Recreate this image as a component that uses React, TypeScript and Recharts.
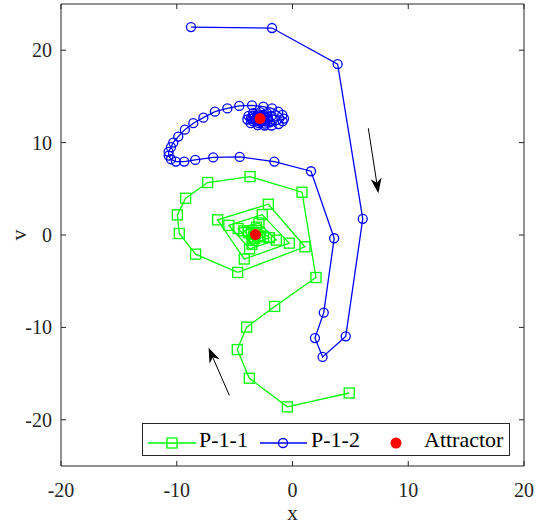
import { ScatterChart, Scatter, XAxis, YAxis, Label } from "recharts";

// P-1-1 trajectory (green squares)
const p11X = [4.9, -0.45, -3.73, -4.77, -3.96, -1.54, 2.03, 0.82, -3.67, -7.33, -9.23, -9.95, -9.78, -8.37, -4.74, 1.08, -2.09, -6.47, -4.17, -0.28, -2.62, -5.5, -3.7, -1.4, -2.9, -4.7, -3.5, -2.0, -3.1, -4.2, -3.4, -2.5, -3.15, -3.8, -3.3, -2.8, -3.2, -3.55, -3.25, -3.0];
const p11Y = [-17.1, -18.6, -15.5, -12.4, -9.97, -7.73, -4.6, 4.63, 6.32, 5.68, 3.98, 2.18, 0.16, -2.07, -4.05, -1.28, 3.33, 1.64, -2.6, -0.88, 2.2, 1.05, -1.5, -0.55, 1.3, 0.7, -1.0, -0.3, 0.85, 0.45, -0.6, -0.2, 0.5, 0.25, -0.35, -0.1, 0.3, 0.12, -0.2, -0.05];

// P-1-2 trajectory (blue circles)
const p12X = [-8.77, -1.77, 3.9, 6.07, 4.6, 2.6, 1.94, 2.7, 3.6, 1.6, -1.57, -4.56, -6.85, -8.4, -9.35, -10.07, -10.5, -10.7, -10.7, -10.5, -10.3, -9.87, -9.3, -8.57, -7.7, -6.7, -5.63, -4.6, -3.5, -2.52, -1.77, -1.23, -0.88, -0.73, -0.85, -1.2, -1.8, -2.4, -3.0, -3.6, -3.9, -3.8, -3.4, -2.8, -2.2, -1.8, -1.7, -1.95, -2.4, -2.9, -3.4, -3.6, -3.4, -3.0, -2.5, -2.15, -2.1, -2.35, -2.8, -3.2, -3.3, -3.05, -2.7, -2.45, -2.5, -2.8, -3.05, -2.95, -2.7];
const p12Y = [22.5, 22.4, 18.5, 1.75, -10.97, -13.2, -11.15, -8.4, -0.35, 6.9, 7.95, 8.45, 8.4, 8.13, 7.95, 7.95, 8.2, 8.6, 9.0, 9.5, 10.0, 10.65, 11.4, 12.1, 12.7, 13.35, 13.7, 13.97, 14.03, 13.9, 13.7, 13.35, 13.0, 12.6, 12.3, 12.0, 11.85, 11.85, 11.9, 12.1, 12.5, 12.9, 13.2, 13.3, 13.2, 12.9, 12.5, 12.2, 12.05, 12.1, 12.3, 12.6, 12.9, 13.05, 13.0, 12.8, 12.5, 12.3, 12.25, 12.4, 12.65, 12.85, 12.85, 12.7, 12.45, 12.4, 12.55, 12.75, 12.7];

// attractors (red dots)
const attractorX = [-3.2, -2.8];
const attractorY = [0.05, 12.6];

// arrows: [start, end]
const arrow1X = [6.55, 7.42];
const arrow1Y = [11.55, 4.52];
const arrow2X = [-5.46, -7.25];
const arrow2Y = [-17.35, -12.2];

const xTicks = [-20, -10, 0, 10, 20];
const yTicks = [-20, -10, 0, 10, 20];

const zip = (xs: number[], ys: number[]) => xs.map((x, i) => ({ x, y: ys[i] }));

const p11 = zip(p11X, p11Y);
const p12 = zip(p12X, p12Y);
const attractors = zip(attractorX, attractorY);
const arrow1 = zip(arrow1X, arrow1Y);
const arrow2 = zip(arrow2X, arrow2Y);

const GREEN = "#00ff00";
const BLUE = "#0000ff";
const RED = "#ff0000";
const AX = "#262626";
const FONT = '"Liberation Serif", "Times New Roman", serif';

// plot box edges (px) used for the inward tick marks
const BOX = { left: 61, right: 524, top: 4, bottom: 466 };
const TICK = 5;

const BottomTick = (p: any) => (
  <g>
    <line x1={p.x} x2={p.x} y1={BOX.bottom} y2={BOX.bottom - TICK} stroke={AX} />
    <text x={p.x} y={497} textAnchor="middle" fontSize={20} fontFamily={FONT} fill={AX}>
      {p.payload.value}
    </text>
  </g>
);
const TopTick = (p: any) => <line x1={p.x} x2={p.x} y1={BOX.top} y2={BOX.top + TICK} stroke={AX} />;
const LeftTick = (p: any) => (
  <g>
    <line x1={BOX.left} x2={BOX.left + TICK} y1={p.y} y2={p.y} stroke={AX} />
    <text x={52} y={p.y + 7} textAnchor="end" fontSize={20} fontFamily={FONT} fill={AX}>
      {p.payload.value}
    </text>
  </g>
);
const RightTick = (p: any) => <line x1={BOX.right} x2={BOX.right - TICK} y1={p.y} y2={p.y} stroke={AX} />;

const Square = (p: any) => (
  <rect x={p.cx - 5} y={p.cy - 5} width={10} height={10} fill="none" stroke={GREEN} strokeWidth={1.3} />
);
const Circle = (p: any) => <circle cx={p.cx} cy={p.cy} r={4.5} fill="none" stroke={BLUE} strokeWidth={1.3} />;
const Dot = (p: any) => <circle cx={p.cx} cy={p.cy} r={5.5} fill={RED} />;
const Nothing = () => <g />;

const Arrow = (props: any) => {
  const pts = props.points;
  if (!pts || pts.length < 2) return <g />;
  const [a, b] = pts;
  const ang = Math.atan2(b.y - a.y, b.x - a.x);
  const len = 15;
  const w = 5.5;
  const ux = Math.cos(ang);
  const uy = Math.sin(ang);
  const bx = b.x - ux * len;
  const by = b.y - uy * len;
  const nx = b.x - ux * len * 0.7;
  const ny = b.y - uy * len * 0.7;
  const head = `M${b.x},${b.y} L${bx - uy * w},${by + ux * w} L${nx},${ny} L${bx + uy * w},${by - ux * w} Z`;
  return (
    <g>
      <line x1={a.x} y1={a.y} x2={nx} y2={ny} stroke="#000" strokeWidth={1} />
      <path d={head} fill="#000" />
    </g>
  );
};

function Legend() {
  const text = { position: "absolute" as const, top: 4, fontSize: 22, fontFamily: FONT, color: "#000", lineHeight: "24px" };
  return (
    <div
      style={{
        position: "absolute",
        left: 142,
        top: 423,
        width: 368,
        height: 33,
        boxSizing: "border-box",
        border: `1px solid ${AX}`,
        background: "#fff",
      }}
    >
      <svg width={366} height={31} style={{ position: "absolute", left: 0, top: 0 }}>
        <line x1={5} x2={53} y1={19} y2={19} stroke={GREEN} strokeWidth={1.3} />
        <rect x={24} y={14} width={10} height={10} fill="none" stroke={GREEN} strokeWidth={1.3} />
        <line x1={117} x2={164} y1={19} y2={19} stroke={BLUE} strokeWidth={1.3} />
        <circle cx={140} cy={19} r={4.5} fill="none" stroke={BLUE} strokeWidth={1.3} />
        <circle cx={253} cy={19} r={5.5} fill={RED} />
      </svg>
      <span style={{ ...text, left: 56 }}>P-1-1</span>
      <span style={{ ...text, left: 168 }}>P-1-2</span>
      <span style={{ ...text, left: 281 }}>Attractor</span>
    </div>
  );
}

export default function App() {
  return (
    <div style={{ position: "absolute", left: 0, top: 0, width: 538, height: 527, background: "#fff", fontFamily: FONT }}>
      <ScatterChart width={538} height={527} margin={{ top: 3, right: 13, left: 0, bottom: 0 }}>
        <XAxis
          xAxisId={0}
          type="number"
          dataKey="x"
          domain={[-20, 20]}
          ticks={xTicks}
          allowDataOverflow
          height={61}
          tickLine={false}
          tick={BottomTick}
          stroke={AX}
        >
          <Label
            content={(p: any) => (
              <text x={p.viewBox.x + p.viewBox.width / 2} y={520} textAnchor="middle" fontSize={21} fontFamily={FONT} fill={AX}>
                x
              </text>
            )}
          />
        </XAxis>
        <XAxis
          xAxisId="top"
          orientation="top"
          type="number"
          dataKey="x"
          domain={[-20, 20]}
          ticks={xTicks}
          allowDataOverflow
          height={1}
          tickLine={false}
          tick={TopTick}
          stroke={AX}
        />
        <YAxis
          yAxisId={0}
          type="number"
          dataKey="y"
          domain={[-25, 25]}
          ticks={yTicks}
          allowDataOverflow
          width={61}
          tickLine={false}
          tick={LeftTick}
          stroke={AX}
        >
          <Label
            content={(p: any) => {
              const cy = p.viewBox.y + p.viewBox.height / 2;
              return (
                <text x={18} y={cy} transform={`rotate(-90 18 ${cy})`} textAnchor="middle" dominantBaseline="central" fontSize={22} fontFamily={FONT} fill={AX}>
                  v
                </text>
              );
            }}
          />
        </YAxis>
        <YAxis
          yAxisId="right"
          orientation="right"
          type="number"
          dataKey="y"
          domain={[-25, 25]}
          ticks={yTicks}
          allowDataOverflow
          width={1}
          tickLine={false}
          tick={RightTick}
          stroke={AX}
        />
        <Scatter data={p11} fill={GREEN} line={{ stroke: GREEN, strokeWidth: 1.3 }} shape={Square} isAnimationActive={false} />
        <Scatter data={p12} fill={BLUE} line={{ stroke: BLUE, strokeWidth: 1.3 }} shape={Circle} isAnimationActive={false} />
        <Scatter data={attractors} fill={RED} shape={Dot} isAnimationActive={false} />
        <Scatter data={arrow1} line={Arrow} shape={Nothing} isAnimationActive={false} />
        <Scatter data={arrow2} line={Arrow} shape={Nothing} isAnimationActive={false} />
      </ScatterChart>
      <Legend />
    </div>
  );
}
